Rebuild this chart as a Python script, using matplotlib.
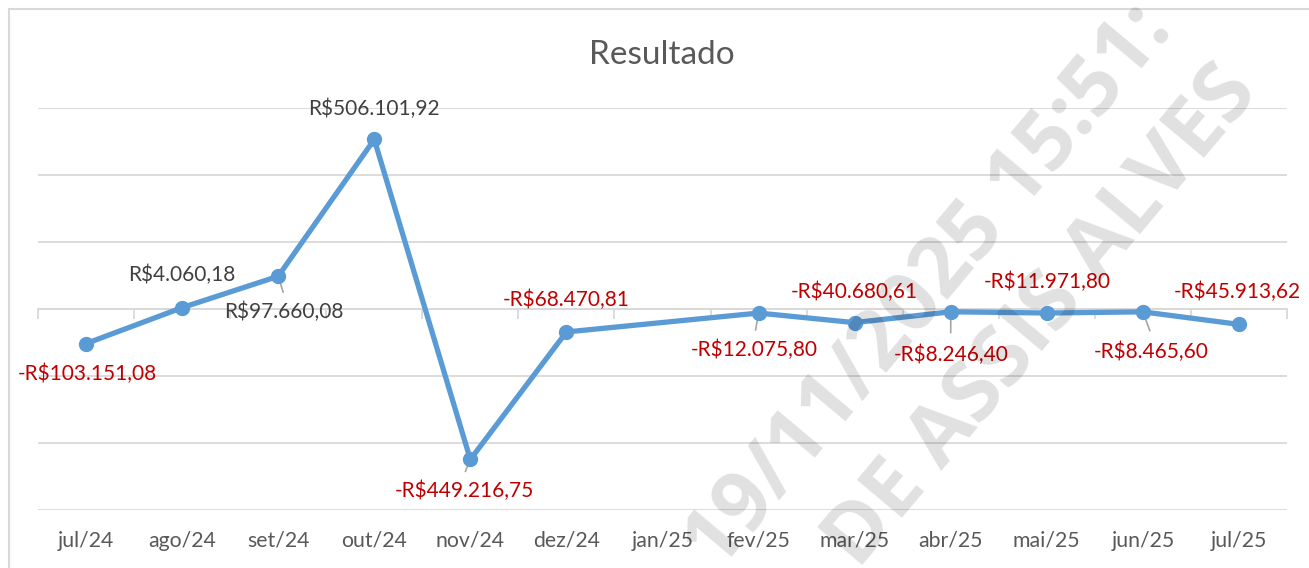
import numpy as np
import matplotlib
matplotlib.use("Agg")
import matplotlib.pyplot as plt
from matplotlib.patches import Rectangle

# ---- data ----
categories = ['jul/24', 'ago/24', 'set/24', 'out/24', 'nov/24', 'dez/24', 'jan/25',
              'fev/25', 'mar/25', 'abr/25', 'mai/25', 'jun/25', 'jul/25']
resultado = [-103151.08, 4060.18, 97660.08, 506101.92, -449216.75, -68470.81, np.nan,
             -12075.80, -40680.61, -8246.40, -11971.80, -8465.60, -45913.62]
title = 'Resultado'
watermark_lines = ['19/11/2025 15:51:', 'DE ASSIS ALVES']

# ---- styling / layout ----
FONT = ['Lato', 'DejaVu Sans']
plt.rcParams['font.family'] = FONT
LINE_C = '#5B9BD5'
GRID_C = '#d9d9d9'
POS_C = '#404040'
NEG_C = '#C00000'
TXT_C = '#595959'

# label offsets in pixels (dx, dy) relative to point, and leader-line ends
label_offsets = [(1, -30), (0, 33), (6, -36), (0, 31), (-6, -31), (0, 32), None,
                 (-4, -37), (0, 31), (0, -43), (0, 31), (8, -40), (-2, 32)]
leader_ends = {2: (5, -16), 4: (-5, -12), 7: (-3, -17), 9: (0, -21), 11: (7, -19)}

W, H = 1309, 568
fig = plt.figure(figsize=(W / 100, H / 100), dpi=100)
ax = fig.add_axes([38 / W, 1 - 510 / H, (1287 - 38) / W, (510 - 108) / H])

x = np.arange(len(categories))
y = np.array(resultado, dtype=float)
valid = ~np.isnan(y)

ax.set_xlim(-0.5, len(categories) - 0.5)
ax.set_ylim(-600000, 600000)
ax.set_yticks(np.arange(-600000, 600001, 200000))
ax.yaxis.grid(True, color=GRID_C, lw=1.3)
ax.set_axisbelow(True)
ax.tick_params(axis='y', length=0, labelleft=False)
for s in ax.spines.values():
    s.set_visible(False)

# category labels
ax.set_xticks(x)
ax.set_xticklabels(categories, fontsize=15.3, color=TXT_C)
ax.tick_params(axis='x', length=0, pad=15)

# horizontal axis line at zero with boundary ticks
secax = ax.secondary_xaxis((0 - (-600000)) / 1200000)
secax.set_alignment('bottom')
secax.set_xticks(np.arange(-0.5, len(categories), 1.0))
secax.set_xticklabels([])
secax.tick_params(axis='x', length=7, width=1.3, color=GRID_C, direction='out')
secax.spines['bottom'].set_color(GRID_C)
secax.spines['bottom'].set_linewidth(1.3)

# series
ax.plot(x[valid], y[valid], color=LINE_C, lw=3.8, marker='o', markersize=10,
        solid_capstyle='round', solid_joinstyle='round', zorder=3)


def brl(v):
    s = f"{abs(v):,.2f}".replace(',', 'X').replace('.', ',').replace('X', '.')
    return ('-R$' if v < 0 else 'R$') + s


for i, v in enumerate(resultado):
    if np.isnan(v):
        continue
    dx, dy = label_offsets[i]
    ax.annotate(brl(v), xy=(i, v), xytext=(dx, dy), textcoords='offset pixels',
                ha='center', va='center', fontsize=15,
                color=NEG_C if v < 0 else POS_C, zorder=4)
    if i in leader_ends:
        lx, ly = leader_ends[i]
        ax.annotate('', xy=(i, v), xytext=(lx, ly), textcoords='offset pixels',
                    arrowprops=dict(arrowstyle='-', color='#a6a6a6', lw=1.2,
                                    shrinkA=0, shrinkB=2), zorder=2)

# title
fig.text(662 / W, 1 - 55 / H, title, ha='center', va='center', fontsize=24, color=TXT_C)

# chart border (left/top visible)
fig.patches.append(Rectangle((9 / W, -0.2), 1.2, 1.2 - 9 / H, transform=fig.transFigure,
                             fill=False, edgecolor=GRID_C, lw=1.5))

# watermark (cut by the picture edges, as in the reference)
wm_pos = [(930, 288), (1042, 318)]
for txt, (px, py) in zip(watermark_lines, wm_pos):
    fig.text(px / W, 1 - py / H, txt, rotation=50, rotation_mode='anchor',
             ha='center', va='center', fontsize=60, fontweight='bold',
             family=['Open Sans', 'DejaVu Sans'], color='black', alpha=0.12, zorder=10)

fig.savefig('out.png', dpi=100)
